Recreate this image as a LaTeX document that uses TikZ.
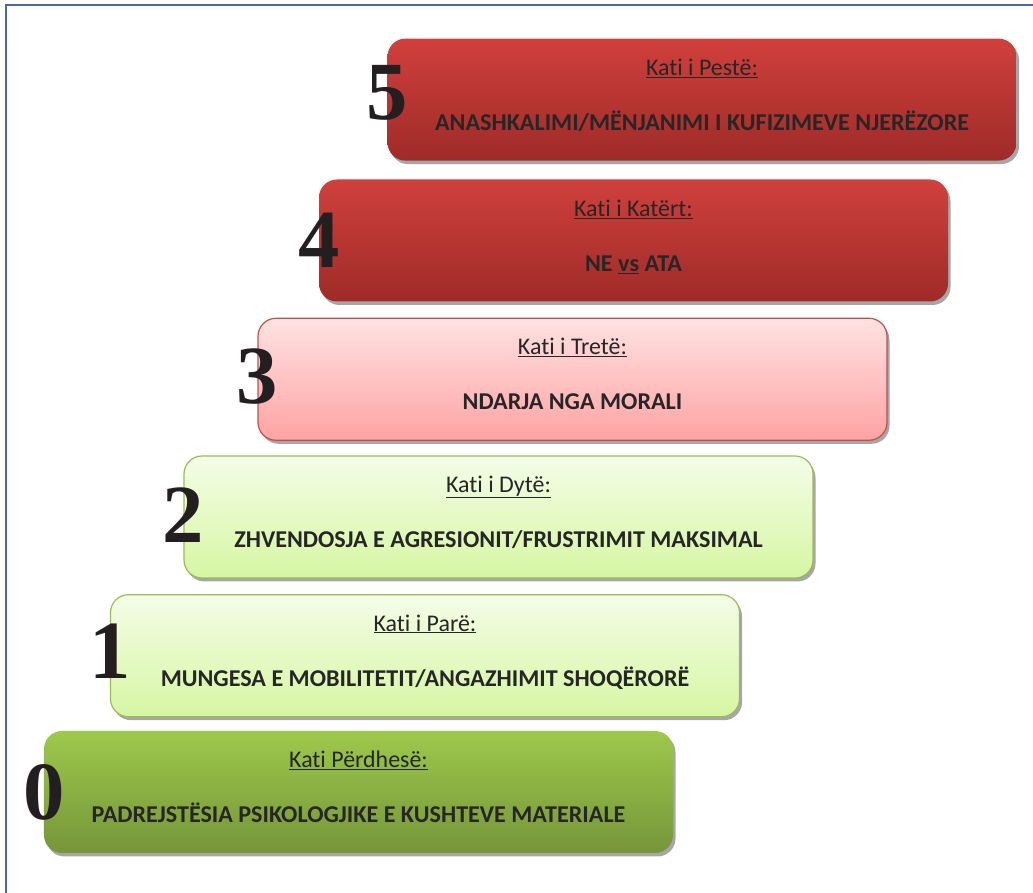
\documentclass[tikz,border=0pt]{standalone}
\usepackage{fontspec}
\setmainfont{Carlito}[Ligatures=NoCommon]
\newfontfamily\numfont{Liberation Serif}
\usetikzlibrary{positioning,shadows}

\definecolor{redtop}{RGB}{208,64,60}
\definecolor{redbot}{RGB}{158,43,40}
\definecolor{pinktop}{RGB}{255,226,226}
\definecolor{pinkbot}{RGB}{255,163,163}
\definecolor{pinkline}{RGB}{192,80,77}
\definecolor{lgtop}{RGB}{244,253,232}
\definecolor{lgbot}{RGB}{214,246,162}
\definecolor{lgline}{RGB}{155,187,89}
\definecolor{dgtop}{RGB}{157,201,75}
\definecolor{dgbot}{RGB}{118,149,58}
\definecolor{txt}{RGB}{38,38,38}
\definecolor{frameblue}{RGB}{74,102,172}

\begin{document}
\begin{tikzpicture}[x=1bp, y=1bp,
    floor/.style={rounded corners=18bp, minimum width=629bp, minimum height=122bp,
        inner sep=0pt, drop shadow={shadow xshift=2.5bp, shadow yshift=-3.5bp,
        fill=black!35, opacity=1}},
    redfloor/.style={floor, top color=redtop, bottom color=redbot},
    pinkfloor/.style={floor, top color=pinktop, bottom color=pinkbot,
        draw=pinkline, line width=1.2bp},
    lightfloor/.style={floor, top color=lgtop, bottom color=lgbot,
        draw=lgline, line width=1.2bp},
    darkfloor/.style={floor, top color=dgtop, bottom color=dgbot},
    title/.style={font=\fontsize{24}{28}\selectfont, text=txt, inner sep=0pt, anchor=base},
    caption/.style={font=\fontsize{24.2}{28}\selectfont\bfseries, text=txt, inner sep=0pt,
        anchor=base},
    digit/.style={font=\numfont\bfseries\fontsize{83}{90}\selectfont,
        text={rgb,255:red,35;green,31;blue,32}, inner sep=0pt, anchor=base}]

    \useasboundingbox (0,0) rectangle (1033,893);
    \draw[frameblue, line width=1.2bp] (6,0) -- (6,888) -- (1033,888);

    % the six floors
    \node[darkfloor] (f0) at (358.5,101) {};
    \node[lightfloor, above=13.5bp of f0, xshift=66.5bp] (f1) {};
    \node[lightfloor, above=15.5bp of f1, xshift=73.5bp] (f2) {};
    \node[pinkfloor, above=14.5bp of f2, xshift=74bp] (f3) {};
    \node[redfloor, above=16bp of f3, xshift=61bp] (f4) {};
    \node[redfloor, above=18.5bp of f4, xshift=68.5bp] (f5) {};

    \node[title] (t0) at ([yshift=-37bp]f0.north) {\underline{Kati Përdhesë:}};
    \node[caption] (c0) at ([yshift=-92bp]f0.north) {PADREJSTËSIA PSIKOLOGJIKE E KUSHTEVE MATERIALE};
    \node[title] (t1) at ([yshift=-37bp]f1.north) {\underline{Kati i Parë:}};
    \node[caption] (c1) at ([yshift=-92bp]f1.north) {MUNGESA E MOBILITETIT/ANGAZHIMIT SHOQËRORË};
    \node[title] (t2) at ([yshift=-37bp]f2.north) {\underline{Kati i Dytë:}};
    \node[caption] (c2) at ([yshift=-92bp]f2.north) {ZHVENDOSJA E AGRESIONIT/FRUSTRIMIT MAKSIMAL};
    \node[title] (t3) at ([yshift=-37bp]f3.north) {\underline{Kati i Tretë:}};
    \node[caption] (c3) at ([yshift=-92bp]f3.north) {NDARJA NGA MORALI};
    \node[title] (t4) at ([yshift=-37bp]f4.north) {\underline{Kati i Katërt:}};
    \node[caption] (c4) at ([yshift=-92bp]f4.north) {NE \underline{vs} ATA};
    \node[title] (t5) at ([yshift=-37bp]f5.north) {\underline{Kati i Pestë:}};
    \node[caption] (c5) at ([yshift=-92bp]f5.north) {ANASHKALIMI/MËNJANIMI I KUFIZIMEVE NJERËZORE};

    % big numbers on the left edges
    \node[digit] (d0) at ([yshift=-89bp]f0.north west) {0};
    \node[digit] (d1) at ([yshift=-84bp]f1.north west) {1};
    \node[digit] (d2) at ([yshift=-87bp]f2.north west) {2};
    \node[digit] (d3) at ([yshift=-86bp]f3.north west) {3};
    \node[digit] (d4) at ([yshift=-88bp]f4.north west) {4};
    \node[digit] (d5) at ([yshift=-81bp]f5.north west) {5};
\end{tikzpicture}
\end{document}
